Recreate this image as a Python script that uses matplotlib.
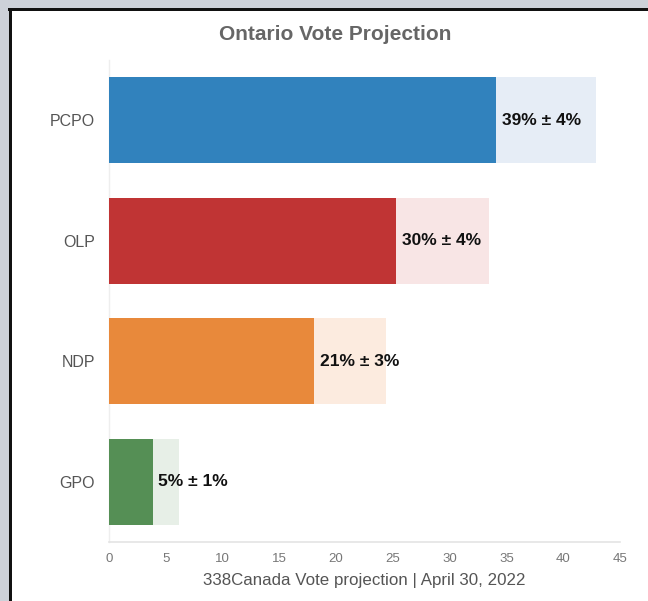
import matplotlib
matplotlib.use("Agg")
import matplotlib.pyplot as plt
from matplotlib.patches import Rectangle

parties = ["PCPO", "OLP", "NDP", "GPO"]
low = [34.1, 25.3, 18.05, 3.85]
high = [42.9, 33.45, 24.4, 6.2]
mean = [39, 30, 21, 5]
err = [4, 4, 3, 1]
solid_colors = ["#3182bd", "#c03434", "#e8893b", "#558f55"]
light_colors = ["#e6edf6", "#f8e5e5", "#fcebdf", "#e7efe7"]
xticks = [0, 5, 10, 15, 20, 25, 30, 35, 40, 45]

W, H = 648, 601
fig = plt.figure(figsize=(W / 100, H / 100), dpi=100)
fig.patch.set_facecolor("white")

# outer grey background + black frame
fig.patches.append(Rectangle((0, 1 - 8 / H), 1, 8 / H, transform=fig.transFigure,
                             facecolor="#cdd1d9", edgecolor="none", zorder=0))
fig.patches.append(Rectangle((0, 0), 9 / W, 1, transform=fig.transFigure,
                             facecolor="#cdd1d9", edgecolor="none", zorder=0))
fig.patches.append(Rectangle((8 / W, 1 - 11 / H), 1 - 8 / W, 3 / H, transform=fig.transFigure,
                             facecolor="#111111", edgecolor="none", zorder=1))
fig.patches.append(Rectangle((9 / W, 0), 3 / W, 1 - 8 / H, transform=fig.transFigure,
                             facecolor="#111111", edgecolor="none", zorder=1))

ax = fig.add_axes([109 / W, 1 - 542 / H, 511 / W, 482 / H])
ypos = list(range(len(parties)))
ax.barh(ypos, high, height=0.71, color=light_colors, zorder=2)
ax.barh(ypos, low, height=0.71, color=solid_colors, zorder=3)
for y, lo, m, e in zip(ypos, low, mean, err):
    ax.text(lo + 0.5, y, f"{m}% \u00b1 {e}%", va="center", ha="left",
            fontsize=12.5, fontweight="bold", color="#111111",
            family="Liberation Sans", zorder=4)

ax.set_xlim(0, 45)
ax.set_ylim(len(parties) - 0.5, -0.5)
ax.set_yticks(ypos)
ax.set_yticklabels(parties, fontsize=11.5, color="#555555", family="Liberation Sans")
ax.set_xticks(xticks)
ax.set_xticklabels([str(t) for t in xticks], fontsize=9.5, color="#777777",
                   family="Liberation Sans")
ax.tick_params(axis="both", length=0)
ax.tick_params(axis="y", pad=10)
ax.tick_params(axis="x", pad=8)
for s in ["top", "right"]:
    ax.spines[s].set_visible(False)
ax.spines["left"].set_color("#eeeeee")
ax.spines["bottom"].set_color("#e4e4e4")
ax.spines["left"].set_linewidth(1)
ax.spines["bottom"].set_linewidth(1.2)

ax.set_xlabel("338Canada Vote projection | April 30, 2022", fontsize=12.2,
              color="#555555", family="Liberation Sans", labelpad=6)
fig.text(335 / W, 1 - 35 / H, "Ontario Vote Projection", ha="center", va="center",
         fontsize=15, fontweight="bold", color="#666666", family="Liberation Sans")

fig.savefig("out.png", dpi=100)
